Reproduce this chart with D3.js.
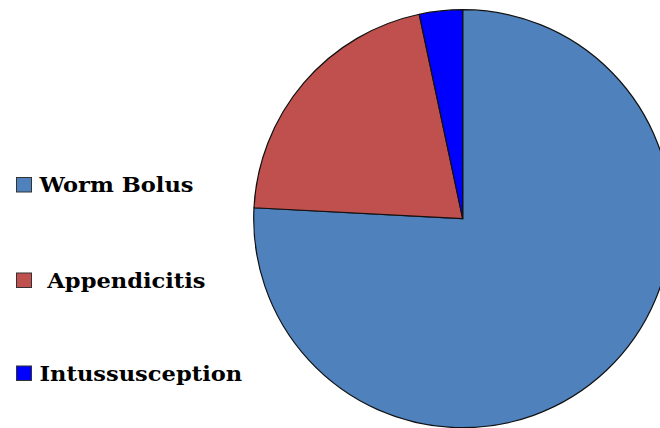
<!DOCTYPE html>
<html>
<head>
<meta charset="utf-8">
<script src="https://cdn.jsdelivr.net/npm/d3@7"></script>
<style>
  body { margin: 0; background: #fff; }
  #chart { width: 660px; height: 428px; overflow: hidden; }
</style>
</head>
<body>
<div id="chart"></div>
<script>
const categories = ["Worm Bolus", "Appendicitis", "Intussusception"]
const values = [91, 25, 4]
const colors = ["#4F81BD", "#C0504D", "#0000FF"]
const legendLabels = ["Worm Bolus", "\u00a0Appendicitis", "Intussusception"]

const width = 660
const height = 428
const cx = 462.7
const cy = 218.7
const radius = 209

const svg = d3.select("#chart").append("svg")
    .attr("width", width)
    .attr("height", height)

const data = categories.map((c, i) => ({name: c, value: values[i], color: colors[i]}))

const pie = d3.pie()
    .value(d => d.value)
    .sort(null)

const arc = d3.arc()
    .innerRadius(0)
    .outerRadius(radius)

svg.append("g")
    .attr("transform", `translate(${cx}, ${cy})`)
    .selectAll("path")
    .data(pie(data))
  .enter().append("path")
    .attr("d", arc)
    .attr("fill", d => d.data.color)
    .attr("stroke", "#111")
    .attr("stroke-width", 1.2)
    .attr("stroke-linejoin", "round")

// legend
const legendY = d3.scaleOrdinal()
    .domain(categories)
    .range([192, 287.5, 380.5])

const legend = svg.append("g").attr("class", "legend")
    .selectAll("g")
    .data(data)
  .enter().append("g")
    .attr("transform", d => `translate(0, ${legendY(d.name)})`)

legend.append("rect")
    .attr("x", 16.5)
    .attr("y", -14.5)
    .attr("width", 15)
    .attr("height", 14.5)
    .attr("fill", d => d.color)
    .attr("stroke", "#333")
    .attr("stroke-width", 1)

// the original font is a wide bold serif, so stretch DejaVu Serif a bit
legend.append("text")
    .attr("transform", "translate(39.5, 0) scale(1.075, 1)")
    .attr("font-family", "'DejaVu Serif', serif")
    .attr("font-weight", "bold")
    .attr("font-size", 21)
    .attr("fill", "#000")
    .text((d, i) => legendLabels[i])
</script>
</body>
</html>
